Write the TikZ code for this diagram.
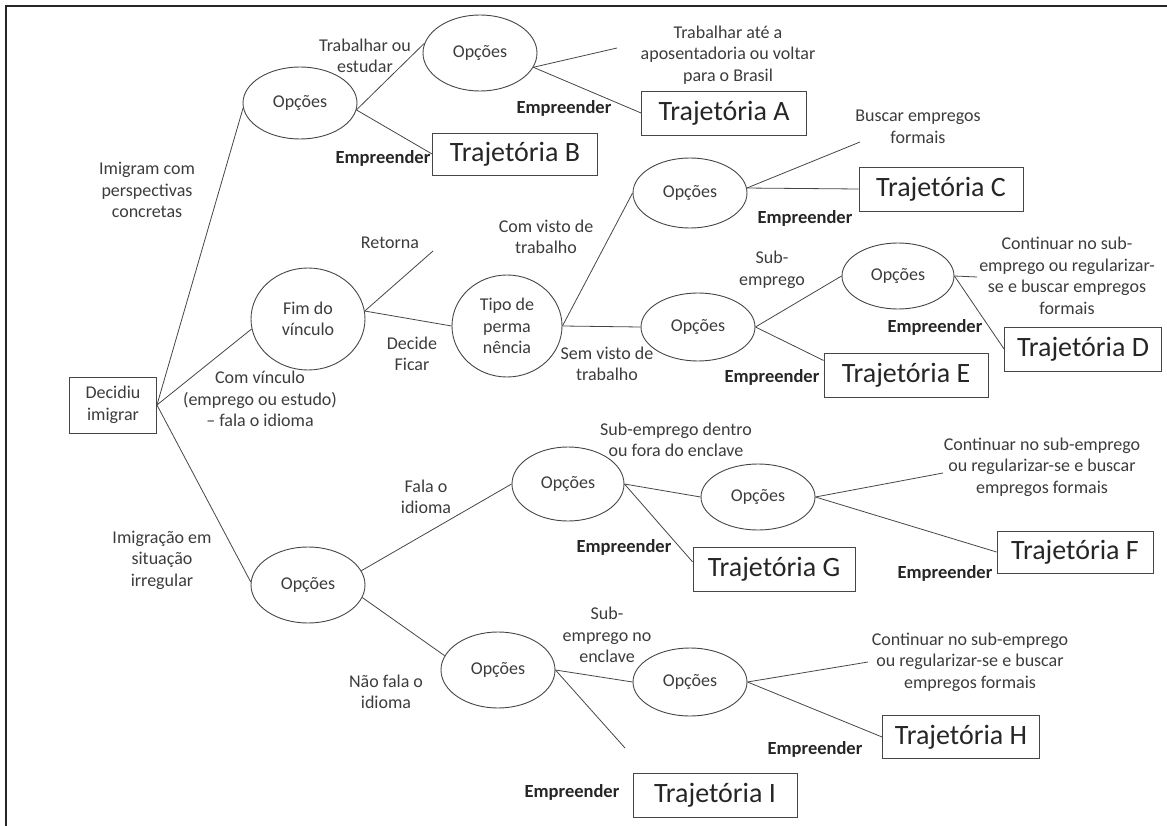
\documentclass[tikz,border=0pt]{standalone}
\usepackage{fontspec}
\setmainfont{Carlito}
\usepackage{tikz}
\usetikzlibrary{shapes.geometric}
\definecolor{linegray}{RGB}{70,70,70}
\definecolor{txtgray}{RGB}{60,60,60}
\tikzset{
  opc/.style={ellipse, draw=linegray, line width=0.9pt, minimum width=114pt, minimum height=72pt, inner sep=0pt, align=center, text=txtgray, font=\fontsize{18}{21.5}\selectfont},
  traj/.style={rectangle, draw=linegray, line width=0.9pt, minimum width=164pt, minimum height=44pt, inner sep=0pt, text=black!85, font=\fontsize{28}{30}\selectfont},
  caixa/.style={rectangle, draw=linegray, line width=0.9pt, minimum width=87pt, minimum height=56pt, inner sep=0pt, align=center, text=txtgray, font=\fontsize{18}{21.5}\selectfont},
  lbl/.style={align=center, inner sep=0pt, text=txtgray, font=\fontsize{18}{21.5}\selectfont},
  emp/.style={inner sep=0pt, text=black!85, font=\bfseries\fontsize{18.5}{21}\selectfont},
  ramo/.style={draw=linegray, line width=0.8pt}
}
\begin{document}
\begin{tikzpicture}[x=1pt, y=-1pt]
\useasboundingbox (0,0) rectangle (1167,826);
\draw[line width=2pt, black!85] (6,826) -- (6,6) -- (1167,6);

\node[caixa] (dec) at (113,405) {Decidiu\\imigrar};
\node[opc] (o1) at (300,103) {Opções};
\node[opc, minimum height=76pt] (o2) at (480,53) {Opções};
\node[traj, minimum width=165pt] (ta) at (724,113) {Trajetória A};
\node[traj, minimum width=165pt, minimum height=42pt] (tb) at (515,154) {Trajetória B};
\node[opc, minimum height=70pt] (o3) at (690,193) {Opções};
\node[traj] (tc) at (941,189) {Trajetória C};
\node[opc, minimum height=102pt] (fim) at (308,319) {Fim do\\vínculo};
\node[opc, minimum width=110pt, minimum height=102pt] (tipo) at (507,326) {Tipo de\\perma\\nência};
\node[opc, minimum height=68pt] (o4) at (698,327) {Opções};
\node[opc, minimum width=112pt, minimum height=66pt] (o5) at (898,276) {Opções};
\node[traj, minimum width=157pt] (td) at (1083,349) {Trajetória D};
\node[traj] (te) at (906,375) {Trajetória E};
\node[opc, minimum height=76pt] (o6) at (308,585) {Opções};
\node[opc, minimum width=112pt, minimum height=74pt] (o7) at (568,484) {Opções};
\node[opc, minimum height=66pt] (o8) at (758,497) {Opções};
\node[traj, minimum width=162pt] (tg) at (774,569) {Trajetória G};
\node[traj, minimum width=156pt, minimum height=42pt] (tf) at (1075,552) {Trajetória F};
\node[opc, minimum height=76pt] (o9) at (498,670) {Opções};
\node[opc, minimum height=68pt] (o10) at (690,682) {Opções};
\node[traj, minimum width=157pt, minimum height=43pt] (th) at (961,737) {Trajetória H};
\node[traj] (ti) at (715,795) {Trajetória I};

\coordinate (fimA) at (617,48);
\coordinate (fimRet) at (433,251);
\coordinate (fimC) at (860,142);
\coordinate (fimD) at (977,277);
\coordinate (fimF) at (943,473);
\coordinate (fimH) at (868,662);
\coordinate (fimI) at (625,748);

\draw[ramo] (dec.east) -- (o1.185);
\draw[ramo] (dec.east) -- (fim.190);
\draw[ramo] (dec.east) -- (o6.177);
\draw[ramo] (o1.353) -- (o2.170);
\draw[ramo] (o1.353) -- (tb.west);
\draw[ramo] (o2.345) -- (fimA);
\draw[ramo] (o2.345) -- (ta.west);
\draw[ramo] (fim.8) -- (fimRet);
\draw[ramo] (fim.8) -- (tipo.west);
\draw[ramo] (tipo.east) -- (o3.west);
\draw[ramo] (tipo.east) -- (o4.west);
\draw[ramo] (o3.5) -- (fimC);
\draw[ramo] (o3.5) -- (tc.west);
\draw[ramo] (o4.east) -- (o5.west);
\draw[ramo] (o4.east) -- (te.170);
\draw[ramo] (o5.east) -- (fimD);
\draw[ramo] (o5.east) -- (td.west);
\draw[ramo] (o6.15) -- (o7.west);
\draw[ramo] (o6.-13) -- (o9.165);
\draw[ramo] (o7.east) -- (o8.west);
\draw[ramo] (o7.east) -- (tg.175);
\draw[ramo] (o8.east) -- (fimF);
\draw[ramo] (o8.east) -- (tf.west);
\draw[ramo] (o9.east) -- (o10.west);
\draw[ramo] (o9.east) -- (fimI);
\draw[ramo] (o10.east) -- (fimH);
\draw[ramo] (o10.east) -- (th.west);

\node[lbl] (l1) at (365,56) {Trabalhar ou\\estudar};
\node[lbl] (l2) at (147,190) {Imigram com\\perspectivas\\concretas};
\node[lbl] (l3) at (728,55) {Trabalhar até a\\aposentadoria ou voltar\\para o Brasil};
\node[emp] (e1) at (564,108) {Empreender};
\node[emp] (e2) at (383,158) {Empreender};
\node[lbl] (l4) at (390,243) {Retorna};
\node[lbl] (l5) at (546,237) {Com visto de\\trabalho};
\node[lbl] (l6) at (918,127) {Buscar empregos\\formais};
\node[emp] (e3) at (805,218) {Empreender};
\node[lbl] (l7) at (412,354) {Decide\\Ficar};
\node[lbl] (l8) at (260,399) {Com vínculo\\(emprego ou estudo)\\– fala o idioma};
\node[lbl] (l9) at (607,364) {Sem visto de\\trabalho};
\node[lbl] (l10) at (772,270) {Sub-\\emprego};
\node[emp] (e4) at (772,377) {Empreender};
\node[emp] (e5) at (935,327) {Empreender};
\node[lbl] (l11) at (1067,276) {Continuar no sub-\\emprego ou regularizar-\\se e buscar empregos\\formais};
\node[lbl] (l12) at (426,497) {Fala o\\idioma};
\node[lbl] (l13) at (676,440) {Sub-emprego dentro\\ou fora do enclave};
\node[lbl] (l14) at (162,560) {Imigração em\\situação\\irregular};
\node[lbl] (l15) at (1042,467) {Continuar no sub-emprego\\ou regularizar-se e buscar\\empregos formais};
\node[emp] (e6) at (624,547) {Empreender};
\node[emp] (e7) at (945,573) {Empreender};
\node[lbl] (l16) at (386,692) {Não fala o\\idioma};
\node[lbl] (l17) at (607,635) {Sub-\\emprego no\\enclave};
\node[lbl] (l18) at (970,662) {Continuar no sub-emprego\\ou regularizar-se e buscar\\empregos formais};
\node[emp] (e8) at (815,749) {Empreender};
\node[emp] (e9) at (572,792) {Empreender};
\end{tikzpicture}
\end{document}
